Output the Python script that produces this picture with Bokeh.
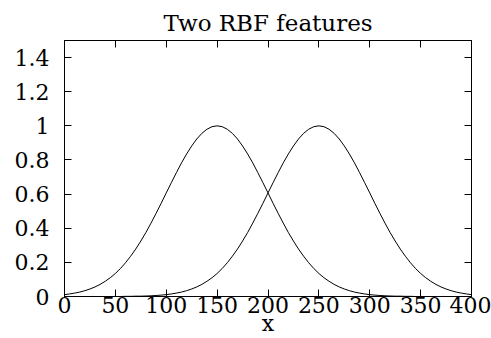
from bokeh.plotting import figure
from bokeh.models import LinearAxis, FixedTicker, Range1d
from bokeh.embed import file_html
from bokeh.resources import INLINE

# x positions (step 5) and the two RBF feature values
x = list(range(0, 401, 5))
rbf_150 = [0.011, 0.015, 0.020, 0.026, 0.034, 0.044, 0.056, 0.071, 0.089, 0.110,
           0.135, 0.164, 0.198, 0.236, 0.278, 0.325, 0.375, 0.430, 0.487, 0.546,
           0.607, 0.667, 0.726, 0.783, 0.835, 0.882, 0.923, 0.956, 0.980, 0.995,
           1.000,
           0.995, 0.980, 0.956, 0.923, 0.882, 0.835, 0.783, 0.726, 0.667, 0.607,
           0.546, 0.487, 0.430, 0.375, 0.325, 0.278, 0.236, 0.198, 0.164, 0.135,
           0.110, 0.089, 0.071, 0.056, 0.044, 0.034, 0.026, 0.020, 0.015, 0.011,
           0.008, 0.006, 0.004, 0.003, 0.002, 0.002, 0.001, 0.001, 0.000, 0.000,
           0.000, 0.000, 0.000, 0.000, 0.000, 0.000, 0.000, 0.000, 0.000, 0.000]
rbf_250 = [0.000, 0.000, 0.000, 0.000, 0.000, 0.000, 0.000, 0.000, 0.000, 0.000,
           0.000, 0.000, 0.001, 0.001, 0.002, 0.002, 0.003, 0.004, 0.006, 0.008,
           0.011, 0.015, 0.020, 0.026, 0.034, 0.044, 0.056, 0.071, 0.089, 0.110,
           0.135, 0.164, 0.198, 0.236, 0.278, 0.325, 0.375, 0.430, 0.487, 0.546,
           0.607, 0.667, 0.726, 0.783, 0.835, 0.882, 0.923, 0.956, 0.980, 0.995,
           1.000,
           0.995, 0.980, 0.956, 0.923, 0.882, 0.835, 0.783, 0.726, 0.667, 0.607,
           0.546, 0.487, 0.430, 0.375, 0.325, 0.278, 0.236, 0.198, 0.164, 0.135,
           0.110, 0.089, 0.071, 0.056, 0.044, 0.034, 0.026, 0.020, 0.015, 0.011]

x_ticks = [0, 50, 100, 150, 200, 250, 300, 350, 400]
x_tick_labels = ["0", "50", "100", "150", "200", "250", "300", "350", "400"]
y_ticks = [0, 0.2, 0.4, 0.6, 0.8, 1.0, 1.2, 1.4]
y_tick_labels = ["0", "0.2", "0.4", "0.6", "0.8", "1", "1.2", "1.4"]

FONT = "DejaVu Serif"

p = figure(width=491, height=338, output_backend="svg", toolbar_location=None,
           x_range=Range1d(0, 400), y_range=Range1d(0, 1.5),
           x_axis_label="x", title="Two RBF features",
           min_border_left=64, min_border_right=20, min_border_top=40,
           min_border_bottom=41)

p.line(x, rbf_150, line_color="black", line_width=1)
p.line(x, rbf_250, line_color="black", line_width=1)

p.grid.visible = False
p.outline_line_color = "black"
p.background_fill_color = "white"
p.border_fill_color = "white"

p.title.align = "center"
p.title.text_font = FONT
p.title.text_font_size = "23px"
p.title.text_font_style = "normal"
p.title.text_color = "black"
p.title.standoff = 10

def style(ax, ticks, labels, show_labels):
    ax.ticker = FixedTicker(ticks=ticks)
    ax.major_tick_in = 7
    ax.major_tick_out = 0
    ax.minor_tick_line_color = None
    ax.axis_line_color = "black"
    ax.major_tick_line_color = "black"
    ax.major_label_text_font = FONT
    ax.major_label_text_font_size = "22px"
    if show_labels:
        ax.major_label_overrides = {t: l for t, l in zip(ticks, labels)}
        ax.major_label_text_color = "black"
    else:
        ax.major_label_overrides = {t: "" for t in ticks}
        ax.major_label_text_color = None
        ax.major_label_standoff = 0

xa = p.xaxis[0]
ya = p.yaxis[0]
style(xa, x_ticks, x_tick_labels, True)
style(ya, y_ticks, y_tick_labels, True)
xa.major_label_standoff = 0
ya.major_label_standoff = 15
xa.axis_label_text_font = FONT
xa.axis_label_text_font_size = "22px"
xa.axis_label_text_font_style = "normal"
xa.axis_label_text_color = "black"
xa.axis_label_standoff = -5

top = LinearAxis()
style(top, x_ticks, x_tick_labels, False)
p.add_layout(top, "above")
right = LinearAxis()
style(right, y_ticks, y_tick_labels, False)
p.add_layout(right, "right")

open("out.html", "w").write(file_html(p, INLINE))
